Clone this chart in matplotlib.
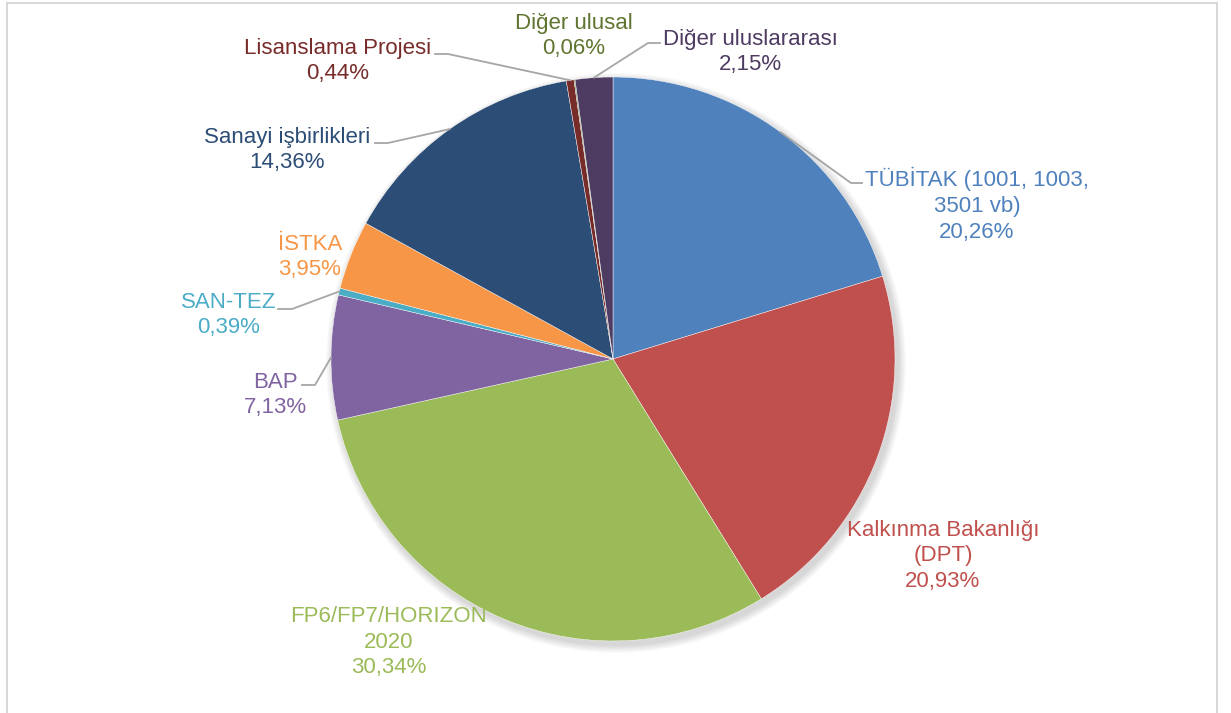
import numpy as np
import matplotlib
matplotlib.use('Agg')
import matplotlib.pyplot as plt
from matplotlib.patches import Rectangle, Circle

plt.rcParams['font.family'] = ['Liberation Sans Narrow', 'Liberation Sans', 'DejaVu Sans']

# data (clockwise from 12 o'clock)
labels = ['TÜBİTAK (1001, 1003,\n3501 vb)', 'Kalkınma Bakanlığı\n(DPT)', 'FP6/FP7/HORIZON\n2020',
          'BAP', 'SAN-TEZ', 'İSTKA', 'Sanayi işbirlikleri', 'Lisanslama Projesi',
          'Diğer ulusal', 'Diğer uluslararası']
values = [20.26, 20.93, 30.34, 7.13, 0.39, 3.95, 14.36, 0.44, 0.06, 2.15]
colors = ['#4F81BD', '#C0504D', '#9BBB59', '#8064A2', '#4BACC6',
          '#F79646', '#2C4D75', '#772C2A', '#5F7530', '#4D3B62']

W, H = 1231, 713
fig = plt.figure(figsize=(W / 100, H / 100), dpi=100)
ax = fig.add_axes([0, 0, 1, 1])
ax.set_xlim(0, W)
ax.set_ylim(0, H)
ax.set_aspect('equal')
ax.axis('off')

cx, cy, R = 613, H - 359, 282

# soft shadow
for i in range(8):
    ax.add_patch(Circle((cx + 3, cy - 4), R + 8 - i, color='black', alpha=0.018, lw=0, zorder=1))

wedges, _ = ax.pie(values, colors=colors, startangle=90, counterclock=False,
                   center=(cx, cy), radius=R, frame=True,
                   wedgeprops=dict(linewidth=0.3, edgecolor='white', zorder=2))
ax.set_xlim(0, W)
ax.set_ylim(0, H)
ax.axis('off')

# label positions (pixel coords from top) and leader-line elbows
pos = {
    0: (977, 205),
    1: (943, 556),
    2: (389, 642),
    3: (275, 395),
    4: (229, 315),
    5: (310, 257),
    6: (287, 150),
    7: (338, 61),
    8: (574, 36),
    9: (750, 52),
}
elbows = {
    0: [(862, 183), (851, 183)],
    3: [(302, 385), (315, 385)],
    4: [(278, 309), (292, 309)],
    6: [(375, 143), (388, 143)],
    7: [(435, 54), (448, 54)],
    9: [(660, 43), (648, 43)],
}

cum = np.cumsum([0] + values)
tot = cum[-1]
for i, (lab, v) in enumerate(zip(labels, values)):
    mid = (cum[i] + v / 2) / tot * 2 * np.pi
    ex = cx + R * np.sin(mid)
    ey = cy + R * np.cos(mid)
    if i in elbows:
        pts = elbows[i]
        xs = [p[0] for p in pts] + [ex]
        ys = [H - p[1] for p in pts] + [ey]
        ax.plot(xs, ys, color='#A6A6A6', lw=1.3, zorder=3)
    txt = lab + '\n' + f'{v:.2f}%'.replace('.', ',')
    x, y = pos[i]
    ax.text(x, H - y, txt, ha='center', va='center', color=colors[i],
            fontsize=16, linespacing=1.3, zorder=4)

# outer border
fig.patches.append(Rectangle((7 / W, -0.01), (1217 - 7) / W, (H - 3) / H + 0.01,
                             transform=fig.transFigure, fill=False,
                             edgecolor='#D9D9D9', lw=1.5))

fig.savefig('out.png', dpi=100)
